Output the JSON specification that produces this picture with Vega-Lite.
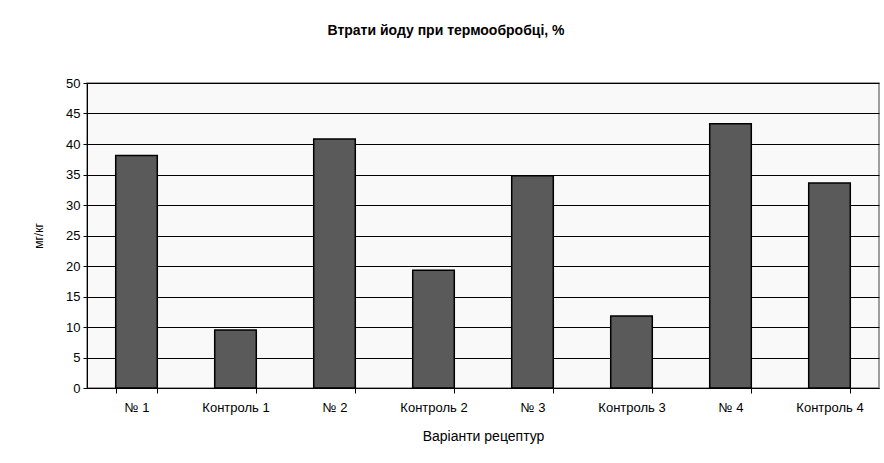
{
  "$schema": "https://vega.github.io/schema/vega-lite/v6.json",
  "autosize": {"type": "none"},
  "padding": {"left": 87, "top": 83, "right": 5, "bottom": 75},
  "width": 792,
  "height": 305,
  "background": "white",
  "title": {
    "text": "Втрати йоду при термообробці, %",
    "font": "Liberation Sans",
    "fontSize": 14,
    "fontWeight": "bold",
    "color": "black",
    "anchor": "middle",
    "dx": -37,
    "offset": 39
  },
  "data": {
    "values": [
      {"variant": "№ 1", "value": 38.1},
      {"variant": "Контроль 1", "value": 9.5},
      {"variant": "№ 2", "value": 40.8},
      {"variant": "Контроль 2", "value": 19.3},
      {"variant": "№ 3", "value": 34.8},
      {"variant": "Контроль 3", "value": 11.8},
      {"variant": "№ 4", "value": 43.3},
      {"variant": "Контроль 4", "value": 33.6}
    ]
  },
  "mark": {"type": "bar", "fill": "#5a5a5a", "stroke": "black", "strokeWidth": 1.5},
  "encoding": {
    "x": {
      "field": "variant",
      "type": "nominal",
      "sort": null,
      "scale": {"paddingInner": 0.58, "paddingOuter": 0.29},
      "axis": {
        "title": "Варіанти рецептур",
        "labelAngle": 0,
        "tickBand": "extent",
        "tickSize": 5,
        "tickColor": "black",
        "domainColor": "black",
        "labelFont": "Liberation Sans",
        "labelFontSize": 13,
        "labelColor": "black",
        "labelPadding": 8,
        "titleFont": "Liberation Sans",
        "titleFontSize": 14,
        "titleFontWeight": "normal",
        "titleColor": "black",
        "titlePadding": 15
      }
    },
    "y": {
      "field": "value",
      "type": "quantitative",
      "scale": {"domain": [0, 50], "nice": false},
      "axis": {
        "title": "мг/кг",
        "values": [0, 5, 10, 15, 20, 25, 30, 35, 40, 45, 50],
        "grid": true,
        "gridColor": "black",
        "gridOpacity": 1,
        "gridWidth": 1,
        "tickSize": 4,
        "tickColor": "black",
        "domainColor": "black",
        "labelFont": "Liberation Sans",
        "labelFontSize": 13,
        "labelColor": "black",
        "labelPadding": 3,
        "titleFont": "Liberation Sans",
        "titleFontSize": 12,
        "titleFontWeight": "normal",
        "titleColor": "black",
        "titlePadding": 20
      }
    }
  },
  "config": {
    "view": {"fill": "#f9f9f9", "stroke": "#808080", "strokeWidth": 1.5}
  }
}
